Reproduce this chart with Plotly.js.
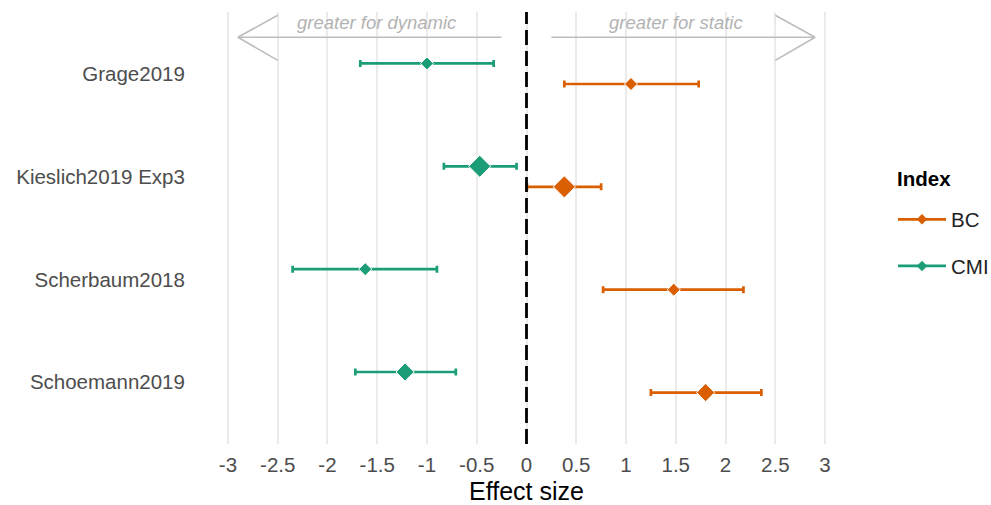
<!DOCTYPE html>
<html>
<head>
<meta charset="utf-8">
<script src="https://cdn.plot.ly/plotly-3.0.1.min.js"></script>
<style>html,body{margin:0;padding:0;background:#fff;}#chart{width:991px;height:505px;}</style>
</head>
<body>
<div id="chart"></div>
<script>
// ---- data ----
const studies = ["Grage2019", "Kieslich2019 Exp3", "Scherbaum2018", "Schoemann2019"];
const studyPos = [4, 3, 2, 1];
const indexNames = ["BC", "CMI"];
const bcEst   = [1.05, 0.38, 1.48, 1.80];
const bcLow   = [0.38, 0.005, 0.77, 1.25];
const bcHigh  = [1.73, 0.75, 2.18, 2.36];
const cmiEst  = [-1.00, -0.47, -1.62, -1.22];
const cmiLow  = [-1.67, -0.83, -2.35, -1.72];
const cmiHigh = [-0.33, -0.10, -0.90, -0.71];
const weights = [10, 17, 10, 14];
const xTicks = [-3, -2.5, -2, -1.5, -1, -0.5, 0, 0.5, 1, 1.5, 2, 2.5, 3];
const xTickText = ["-3", "-2.5", "-2", "-1.5", "-1", "-0.5", "0", "0.5", "1", "1.5", "2", "2.5", "3"];
const arrowLabels = ["greater for dynamic", "greater for static"];

// ---- styles ----
const colors = {BC: "#D95F02", CMI: "#1B9E77"};
const dodge = {BC: -0.1, CMI: 0.1};
const font = "Liberation Sans, Arial, sans-serif";

function seriesTrace(name, est, low, high) {
  return {
    type: "scatter", mode: "markers", name: name, showlegend: false,
    x: est,
    y: studyPos.map(p => p + dodge[name]),
    marker: {symbol: "diamond", size: weights, color: colors[name], opacity: 1},
    error_x: {
      type: "data", symmetric: false,
      array: high.map((h, i) => h - est[i]),
      arrayminus: low.map((l, i) => est[i] - l),
      color: colors[name], thickness: 2.7, width: 3.5
    },
    hoverinfo: "x+y"
  };
}
function legendTrace(name) {
  return {
    type: "scatter", mode: "lines+markers", name: name, x: [null], y: [null],
    legendgroup: name,
    line: {color: colors[name], width: 2.7},
    marker: {symbol: "diamond", size: 8, color: colors[name]}
  };
}

const traces = [
  seriesTrace("CMI", cmiEst, cmiLow, cmiHigh),
  seriesTrace("BC", bcEst, bcLow, bcHigh),
  legendTrace("BC"),
  legendTrace("CMI")
];

const arrowColor = "#bdbdbd";
const aY = 4.355, aTop = 4.568, aBot = 4.13;
function seg(x0, y0, x1, y1) {
  return {type: "line", xref: "x", yref: "y", x0: x0, y0: y0, x1: x1, y1: y1,
          line: {color: arrowColor, width: 1.6}, layer: "above"};
}
const shapes = [
  {type: "line", xref: "x", yref: "paper", x0: 0, x1: 0, y0: 0, y1: 1,
   line: {color: "#000", width: 2.8, dash: "15px,6px"}, layer: "above"},
  seg(-0.25, aY, -2.9, aY), seg(-2.9, aY, -2.5, aTop), seg(-2.9, aY, -2.5, aBot),
  seg(0.25, aY, 2.9, aY), seg(2.9, aY, 2.5, aTop), seg(2.9, aY, 2.5, aBot)
];

const annotations = [
  {x: -1.5, y: 4.5, xref: "x", yref: "y", text: arrowLabels[0], showarrow: false,
   font: {family: font, size: 18.5, color: "#b3b3b3", style: "italic"}},
  {x: 1.5, y: 4.5, xref: "x", yref: "y", text: arrowLabels[1], showarrow: false,
   font: {family: font, size: 18.5, color: "#b3b3b3", style: "italic"}},
  {x: 895, y: 178, xref: "paper", yref: "paper", text: "<b>Index</b>", showarrow: false,
   xanchor: "left", yanchor: "middle",
   font: {family: font, size: 20.5, color: "#000"}}
];

const layout = {
  width: 991, height: 505,
  margin: {l: 217.5, r: 156, t: 11.7, b: 60.7, autoexpand: false},
  paper_bgcolor: "#fff", plot_bgcolor: "#fff",
  font: {family: font, color: "#4d4d4d"},
  showlegend: true,
  xaxis: {
    range: [-3.1, 3.1], tickvals: xTicks, ticktext: xTickText,
    showgrid: true, gridcolor: "#ebebeb", gridwidth: 2, zeroline: false,
    showline: false, ticks: "outside", ticklen: 2, tickcolor: "rgba(0,0,0,0)",
    tickfont: {size: 20.5, color: "#4d4d4d", family: font},
    title: {text: "Effect size", font: {size: 25, color: "#000", family: font}, standoff: 7}
  },
  yaxis: {
    range: [0.4, 4.6], tickvals: studyPos, ticktext: studies,
    showgrid: false, zeroline: false, showline: false,
    ticks: "outside", ticklen: 28, tickcolor: "rgba(0,0,0,0)",
    tickfont: {size: 20.5, color: "#4d4d4d", family: font}
  },
  legend: {
    x: 1.094, xanchor: "left", y: 0.566, yanchor: "top",
    font: {size: 20.5, color: "#222", family: font},
    tracegroupgap: 17, itemwidth: 48, bgcolor: "rgba(0,0,0,0)"
  },
  shapes: shapes,
  annotations: annotations
};
// convert pixel-placed legend title annotation into paper coords
const plotW = 991 - layout.margin.l - layout.margin.r;
const plotH = 505 - layout.margin.t - layout.margin.b;
annotations[2].x = (annotations[2].x - layout.margin.l) / plotW;
annotations[2].y = 1 - (annotations[2].y - layout.margin.t) / plotH;

Plotly.newPlot("chart", traces, layout, {displayModeBar: false, staticPlot: true});
</script>
</body>
</html>
